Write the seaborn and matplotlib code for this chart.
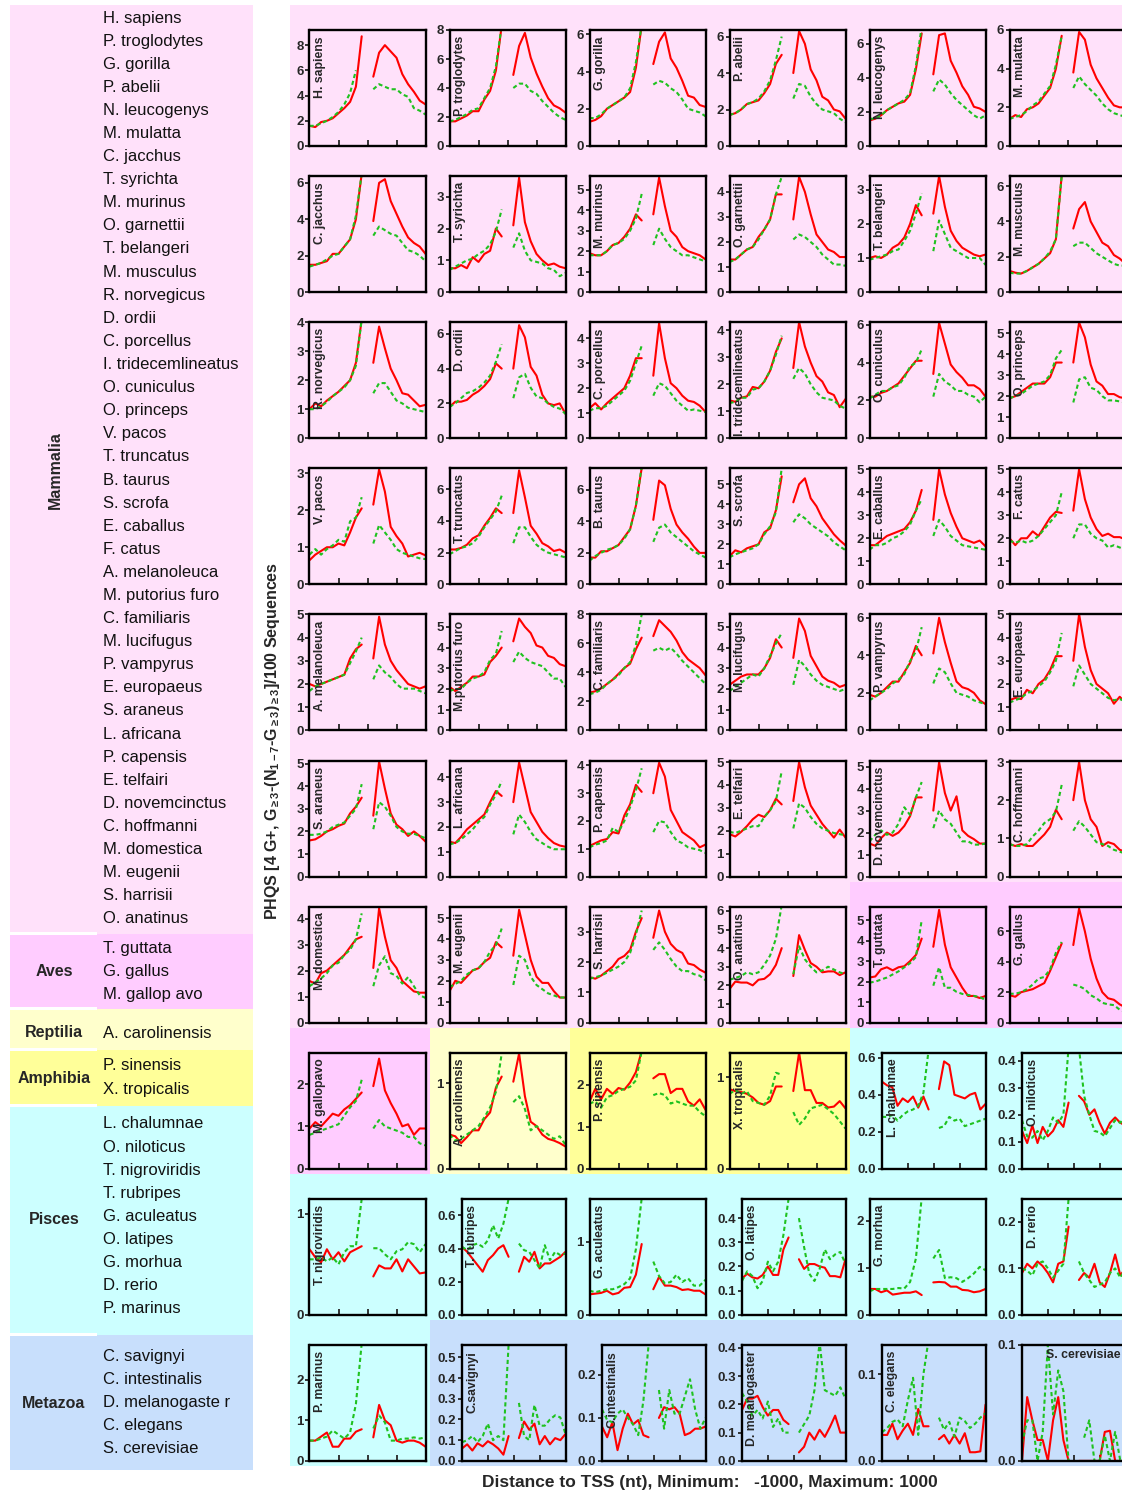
import numpy as np
import pandas as pd
import matplotlib
matplotlib.use("Agg")
import matplotlib.pyplot as plt
from matplotlib.patches import Rectangle
import seaborn as sns

# positions of the windows (nt from TSS)
x_up = [-1000, -900, -800, -700, -600, -500, -400, -300, -200, -100]
x_down = [100, 200, 300, 400, 500, 600, 700, 800, 900, 1000]

# panel labels, in grid order (6 per row)
panel_names = [
    "H. sapiens", "P. troglodytes", "G. gorilla", "P. abelii", "N. leucogenys", "M. mulatta",
    "C. jacchus", "T. syrichta", "M. murinus", "O. garnettii", "T. belangeri", "M. musculus",
    "R. norvegicus", "D. ordii", "C. porcellus", "I. tridecemlineatus", "O. cuniculus", "O. princeps",
    "V. pacos", "T. truncatus", "B. taurus", "S. scrofa", "E. caballus", "F. catus",
    "A. melanoleuca", "M.putorius furo", "C. familiaris", "M. lucifugus", "P. vampyrus", "E. europaeus",
    "S. araneus", "L. africana", "P. capensis", "E. telfairi", "D. novemcinctus", "C. hoffmanni",
    "M. domestica", "M. eugenii", "S. harrisii", "O. anatinus", "T. guttata", "G. gallus",
    "M. gallopavo", "A. carolinensis", "P. sinensis", "X. tropicalis", "L. chalumnae", "O. niloticus",
    "T. nigroviridis", "T. rubripes", "G. aculeatus", "O. latipes", "G. morhua", "D. rerio",
    "P. marinus", "C.savignyi", "C.intestinalis", "D. melanogaster", "C. elegans", "S. cerevisiae",
]

panel_group = (["Mammalia"] * 40 + ["Aves"] * 3 + ["Reptilia"] + ["Amphibia"] * 2
               + ["Pisces"] * 9 + ["Metazoa"] * 5)

y_max = [9.2, 8.0, 6.23, 6.36, 6.8, 6.0,
         6.37, 3.65, 5.67, 4.63, 3.4, 6.57,
         4.0, 6.67, 4.64, 4.3, 6.14, 5.52,
         3.13, 7.33, 7.38, 5.8, 5.04, 5.04,
         5.0, 5.6, 8.0, 5.6, 6.18, 5.0,
         5.15, 4.68, 4.18, 5.07, 5.28, 3.04,
         4.46, 5.55, 3.83, 6.23, 5.66, 7.63,
         2.74, 1.36, 2.76, 1.27, 0.627, 0.43,
         1.15, 0.70, 1.59, 0.48, 2.47, 0.25,
         2.86, 0.56, 0.27, 0.41, 0.134, 0.1]

y_step = [2, 2, 2, 2, 2, 2,
          2, 1, 1, 1, 1, 2,
          1, 2, 1, 1, 2, 1,
          1, 2, 2, 1, 1, 1,
          1, 1, 2, 1, 2, 1,
          1, 1, 1, 1, 1, 1,
          1, 1, 1, 1, 1, 2,
          1, 1, 1, 1, 0.2, 0.1,
          1, 0.2, 1, 0.1, 1, 0.1,
          1, 0.1, 0.1, 0.1, 0.1, 0.1]

nan = np.nan

red_up = {
    "H. sapiens": [1.6, 1.5, 1.9, 2.0, 2.2, 2.6, 3.0, 3.5, 4.7, 8.7],
    "P. troglodytes": [1.7, 1.7, 1.9, 2.1, 2.4, 2.4, 3.2, 3.8, 5.2, 8.3],
    "G. gorilla": [1.3, 1.4, 1.6, 2.0, 2.2, 2.4, 2.6, 2.9, 4.2, 6.5],
    "P. abelii": [1.7, 1.8, 2.0, 2.3, 2.4, 2.5, 2.9, 3.4, 4.5, 5.0],
    "N. leucogenys": [1.5, 1.6, 1.8, 2.1, 2.3, 2.5, 2.6, 3.0, 4.5, 6.6],
    "M. mulatta": [1.4, 1.6, 1.5, 1.9, 2.0, 2.2, 2.6, 3.0, 4.0, 5.7],
    "C. jacchus": [1.5, 1.5, 1.6, 1.7, 2.1, 2.1, 2.5, 2.9, 4.0, 6.5],
    "T. syrichta": [0.75, 0.75, 0.85, 0.75, 1.1, 0.95, 1.2, 1.3, 2.0, 1.75],
    "M. murinus": [1.9, 1.8, 1.8, 2.0, 2.3, 2.4, 2.7, 3.1, 3.8, 3.5],
    "O. garnettii": [1.3, 1.3, 1.5, 1.7, 1.8, 2.2, 2.5, 2.9, 3.9, 3.9],
    "T. belangeri": [1.0, 1.05, 1.0, 1.1, 1.3, 1.4, 1.6, 2.0, 2.55, 2.25],
    "M. musculus": [1.2, 1.1, 1.05, 1.2, 1.4, 1.6, 1.9, 2.2, 3.0, 6.6],
    "R. norvegicus": [1.0, 1.2, 1.1, 1.3, 1.45, 1.6, 1.8, 2.0, 2.6, 4.1],
    "D. ordii": [1.8, 2.1, 2.1, 2.2, 2.5, 2.7, 3.0, 3.4, 4.3, 4.0],
    "C. porcellus": [1.2, 1.4, 1.15, 1.4, 1.6, 1.8, 2.0, 2.5, 3.2, 3.2],
    "I. tridecemlineatus": [1.4, 1.35, 1.5, 1.55, 1.9, 1.85, 2.1, 2.5, 3.2, 3.7],
    "O. cuniculus": [2.2, 2.2, 2.4, 2.5, 2.7, 2.9, 3.3, 3.7, 4.1, 4.1],
    "O. princeps": [1.9, 2.0, 2.2, 2.4, 2.6, 2.6, 2.6, 2.9, 3.6, 3.6],
    "V. pacos": [0.65, 0.8, 0.9, 1.0, 1.0, 1.1, 1.05, 1.4, 1.8, 2.05],
    "T. truncatus": [2.2, 2.2, 2.3, 2.5, 2.9, 3.1, 3.7, 4.2, 4.8, 4.5],
    "B. taurus": [1.7, 1.7, 2.1, 2.1, 2.3, 2.5, 3.0, 3.5, 5.0, 7.4],
    "S. scrofa": [1.4, 1.7, 1.6, 1.8, 1.9, 2.0, 2.6, 2.8, 3.7, 5.4],
    "E. caballus": [1.7, 1.7, 1.9, 2.1, 2.2, 2.3, 2.4, 2.7, 3.2, 4.1],
    "F. catus": [2.0, 1.7, 2.0, 2.0, 2.3, 2.1, 2.5, 2.9, 3.15, 3.1],
    "A. melanoleuca": [2.0, 1.9, 2.0, 2.1, 2.2, 2.3, 2.4, 3.1, 3.5, 3.7],
    "M.putorius furo": [2.1, 1.9, 2.1, 2.3, 2.6, 2.6, 2.7, 3.3, 3.6, 4.0],
    "C. familiaris": [2.6, 2.7, 2.9, 3.2, 3.5, 3.9, 4.3, 4.6, 5.6, 6.4],
    "M. lucifugus": [2.2, 2.4, 2.6, 2.7, 2.7, 2.7, 3.0, 3.5, 4.4, 4.0],
    "P. vampyrus": [1.9, 1.8, 2.0, 2.3, 2.6, 2.6, 3.1, 3.6, 4.5, 4.0],
    "E. europaeus": [1.3, 1.4, 1.35, 1.75, 1.6, 2.0, 2.2, 2.6, 3.2, 3.2],
    "S. araneus": [1.6, 1.65, 1.8, 2.0, 2.1, 2.25, 2.35, 2.8, 3.1, 3.5],
    "L. africana": [1.4, 1.35, 1.6, 1.9, 2.1, 2.3, 2.5, 3.0, 3.45, 3.25],
    "P. capensis": [1.1, 1.2, 1.3, 1.35, 1.6, 1.55, 2.2, 2.6, 3.3, 3.05],
    "E. telfairi": [1.85, 1.75, 1.95, 2.2, 2.5, 2.7, 2.6, 2.9, 3.4, 3.15],
    "D. novemcinctus": [1.5, 1.4, 1.75, 2.0, 1.85, 2.0, 2.3, 2.75, 3.6, 3.6],
    "C. hoffmanni": [0.85, 0.8, 0.85, 0.8, 0.8, 0.95, 1.1, 1.3, 1.75, 1.5],
    "M. domestica": [1.6, 1.5, 1.9, 2.0, 2.2, 2.4, 2.6, 2.9, 3.2, 3.3],
    "M. eugenii": [1.5, 2.0, 1.9, 2.2, 2.5, 2.6, 2.9, 3.1, 3.85, 3.6],
    "S. harrisii": [1.5, 1.45, 1.55, 1.7, 1.85, 2.1, 2.2, 2.4, 3.0, 3.45],
    "O. anatinus": [1.8, 2.2, 2.15, 2.15, 2.0, 2.3, 2.35, 2.6, 3.1, 4.0],
    "T. guttata": [2.2, 2.25, 2.6, 2.7, 2.55, 2.7, 2.75, 3.0, 3.3, 4.1],
    "G. gallus": [1.8, 1.7, 2.0, 2.1, 2.2, 2.4, 2.6, 3.4, 4.3, 5.2],
    "M. gallopavo": [0.95, 1.1, 1.0, 1.15, 1.3, 1.25, 1.4, 1.5, 1.65, 1.8],
    "A. carolinensis": [0.4, 0.38, 0.3, 0.37, 0.45, 0.45, 0.58, 0.66, 0.95, 1.08],
    "P. sinensis": [1.6, 1.9, 1.65, 1.9, 1.78, 1.92, 1.88, 2.05, 2.3, 2.8],
    "X. tropicalis": [0.87, 0.85, 0.84, 0.82, 0.78, 0.72, 0.7, 0.74, 0.9, 0.9],
    "L. chalumnae": [0.47, 0.45, 0.44, 0.34, 0.38, 0.36, 0.39, 0.33, 0.39, 0.32],
    "O. niloticus": [0.14, 0.095, 0.16, 0.095, 0.155, 0.12, 0.14, 0.18, 0.155, 0.245],
    "T. nigroviridis": [0.65, 0.57, 0.52, 0.65, 0.55, 0.62, 0.53, 0.62, 0.65, 0.68],
    "T. rubripes": [0.41, 0.38, 0.34, 0.3, 0.26, 0.33, 0.36, 0.40, 0.42, 0.35],
    "G. aculeatus": [0.28, 0.29, 0.3, 0.33, 0.28, 0.3, 0.37, 0.38, 0.55, 0.97],
    "O. latipes": [0.15, 0.17, 0.155, 0.15, 0.165, 0.2, 0.165, 0.165, 0.27, 0.32],
    "G. morhua": [0.55, 0.55, 0.48, 0.52, 0.43, 0.45, 0.47, 0.47, 0.5, 0.42],
    "D. rerio": [0.09, 0.11, 0.1, 0.115, 0.105, 0.09, 0.07, 0.11, 0.115, 0.19],
    "P. marinus": [0.5, 0.5, 0.6, 0.7, 0.35, 0.35, 0.55, 0.55, 0.72, 0.78],
    "C.savignyi": [0.06, 0.08, 0.05, 0.085, 0.07, 0.095, 0.08, 0.06, 0.03, 0.12],
    "C.intestinalis": [0.08, 0.055, 0.09, 0.025, 0.075, 0.11, 0.085, 0.095, 0.06, 0.055],
    "D. melanogaster": [0.18, 0.22, 0.22, 0.23, 0.19, 0.16, 0.18, 0.18, 0.145, 0.13],
    "C. elegans": [0.03, 0.03, 0.043, 0.025, 0.035, 0.043, 0.03, 0.06, 0.04, 0.04],
    "S. cerevisiae": [0.0, 0.055, 0.035, 0.018, 0.018, 0.0, 0.035, 0.055, 0.018, 0.0],
}

green_up = {
    "H. sapiens": [1.6, 1.6, 1.8, 2.0, 2.3, 2.7, 3.3, 4.2, 6.0, nan],
    "P. troglodytes": [1.7, 1.8, 2.0, 2.2, 2.5, 2.6, 3.3, 4.0, 5.5, 8.3],
    "G. gorilla": [1.5, 1.5, 1.7, 2.0, 2.2, 2.4, 2.6, 3.1, 4.5, 6.5],
    "P. abelii": [1.7, 1.8, 2.0, 2.3, 2.4, 2.6, 3.0, 3.6, 4.7, 6.0],
    "N. leucogenys": [1.6, 1.6, 1.8, 2.1, 2.3, 2.5, 2.7, 3.1, 4.7, 7.0],
    "M. mulatta": [1.4, 1.5, 1.6, 1.8, 2.1, 2.3, 2.7, 3.1, 4.2, 5.7],
    "C. jacchus": [1.4, 1.5, 1.6, 1.8, 2.0, 2.1, 2.5, 2.9, 4.2, 6.5],
    "T. syrichta": [0.7, 0.8, 0.9, 1.0, 1.05, 1.2, 1.3, 1.5, 1.9, 2.6],
    "M. murinus": [1.8, 1.8, 1.8, 2.0, 2.3, 2.4, 2.6, 3.0, 3.6, 4.8],
    "O. garnettii": [1.2, 1.3, 1.5, 1.7, 1.8, 2.1, 2.5, 2.9, 3.9, 4.6],
    "T. belangeri": [0.95, 1.0, 1.05, 1.1, 1.2, 1.25, 1.5, 1.8, 2.3, 2.9],
    "M. musculus": [1.1, 1.05, 1.05, 1.2, 1.4, 1.6, 1.9, 2.3, 3.0, 6.6],
    "R. norvegicus": [1.0, 1.0, 1.1, 1.25, 1.45, 1.6, 1.75, 2.0, 2.5, 4.1],
    "D. ordii": [1.8, 2.0, 2.3, 2.6, 2.7, 2.9, 3.2, 3.6, 4.4, 5.4],
    "C. porcellus": [1.1, 1.2, 1.2, 1.3, 1.5, 1.7, 1.9, 2.3, 3.0, 3.7],
    "I. tridecemlineatus": [1.3, 1.35, 1.5, 1.5, 1.8, 1.85, 2.1, 2.5, 3.1, 3.8],
    "O. cuniculus": [2.1, 2.3, 2.5, 2.5, 2.7, 2.8, 3.2, 3.8, 4.0, 4.7],
    "O. princeps": [1.9, 2.0, 2.1, 2.3, 2.5, 2.6, 2.7, 3.0, 3.8, 4.2],
    "V. pacos": [0.8, 0.95, 0.8, 0.95, 1.05, 1.2, 1.15, 1.7, 1.8, 2.35],
    "T. truncatus": [1.9, 2.1, 2.3, 2.4, 2.6, 3.0, 3.6, 4.1, 4.6, 5.6],
    "B. taurus": [1.5, 1.8, 2.0, 2.2, 2.3, 2.5, 2.9, 3.5, 5.0, 7.5],
    "S. scrofa": [1.35, 1.5, 1.6, 1.7, 1.8, 2.0, 2.5, 2.9, 3.6, 5.8],
    "E. caballus": [1.5, 1.7, 1.7, 1.8, 2.0, 2.1, 2.3, 2.6, 3.2, 3.7],
    "F. catus": [1.9, 1.8, 1.9, 1.8, 1.9, 2.1, 2.4, 2.7, 3.0, 4.0],
    "A. melanoleuca": [1.7, 1.9, 2.0, 2.1, 2.2, 2.3, 2.4, 2.9, 3.4, 4.0],
    "M.putorius furo": [1.9, 2.0, 2.0, 2.3, 2.5, 2.6, 2.8, 3.4, 3.7, 4.8],
    "C. familiaris": [2.5, 2.6, 2.8, 3.2, 3.5, 3.8, 4.3, 4.7, 5.9, 8.0],
    "M. lucifugus": [1.9, 2.1, 2.3, 2.5, 2.7, 2.6, 3.0, 3.6, 4.2, 4.7],
    "P. vampyrus": [1.6, 1.8, 2.0, 2.2, 2.5, 2.7, 3.0, 3.7, 4.2, 5.5],
    "E. europaeus": [1.2, 1.3, 1.4, 1.6, 1.7, 1.9, 2.1, 2.5, 3.0, 4.2],
    "S. araneus": [1.85, 1.85, 1.9, 2.0, 2.2, 2.3, 2.4, 2.7, 3.0, 4.1],
    "L. africana": [1.3, 1.35, 1.5, 1.7, 1.9, 2.2, 2.4, 2.9, 3.3, 3.85],
    "P. capensis": [1.05, 1.15, 1.2, 1.3, 1.75, 1.6, 2.0, 2.5, 3.1, 3.9],
    "E. telfairi": [1.95, 1.9, 2.0, 2.1, 2.2, 2.2, 2.6, 2.9, 3.3, 4.6],
    "D. novemcinctus": [1.6, 1.9, 2.1, 1.9, 2.0, 2.4, 3.15, 2.8, 3.6, 4.3],
    "C. hoffmanni": [0.85, 0.8, 0.8, 0.85, 1.05, 1.2, 1.4, 1.5, 1.7, 2.4],
    "M. domestica": [1.4, 1.55, 1.7, 1.9, 2.2, 2.3, 2.6, 2.8, 3.2, 4.2],
    "M. eugenii": [1.7, 1.85, 2.0, 2.3, 2.5, 2.6, 2.9, 3.4, 3.7, 4.5],
    "S. harrisii": [1.45, 1.5, 1.55, 1.65, 1.75, 1.85, 2.0, 2.3, 2.9, 3.7],
    "O. anatinus": [2.3, 2.4, 2.5, 2.7, 2.6, 2.7, 3.1, 3.6, 4.5, 6.3],
    "T. guttata": [1.95, 2.0, 2.1, 2.2, 2.35, 2.5, 2.7, 2.9, 3.2, 5.0],
    "G. gallus": [1.9, 1.9, 2.0, 2.2, 2.5, 2.9, 3.0, 3.5, 4.6, 5.3],
    "M. gallopavo": [0.8, 0.85, 0.9, 0.95, 1.0, 1.05, 1.25, 1.45, 1.6, 2.1],
    "A. carolinensis": [0.4, 0.33, 0.35, 0.4, 0.45, 0.5, 0.6, 0.72, 0.9, 1.35],
    "P. sinensis": [1.55, 1.6, 1.45, 1.7, 1.75, 1.85, 1.9, 1.95, 2.1, 2.8],
    "X. tropicalis": [0.82, 0.86, 0.82, 0.85, 0.74, 0.72, 0.7, 0.8, 1.05, 1.03],
    "L. chalumnae": [0.28, 0.28, 0.29, 0.26, 0.29, 0.31, 0.32, 0.34, 0.41, 0.64],
    "O. niloticus": [0.18, 0.12, 0.115, 0.14, 0.105, 0.14, 0.19, 0.17, 0.2, 0.45],
    "T. nigroviridis": [0.55, 0.55, 0.57, 0.53, 0.57, 0.5, 0.62, 0.68, 0.68, 1.15],
    "T. rubripes": [0.41, 0.39, 0.42, 0.43, 0.41, 0.45, 0.54, 0.46, 0.55, 0.70],
    "G. aculeatus": [0.33, 0.31, 0.33, 0.35, 0.35, 0.38, 0.42, 0.5, 0.9, 1.6],
    "O. latipes": [0.14, 0.18, 0.16, 0.11, 0.14, 0.22, 0.18, 0.22, 0.33, 0.48],
    "G. morhua": [0.5, 0.55, 0.55, 0.55, 0.55, 0.57, 0.56, 0.7, 1.2, 2.5],
    "D. rerio": [0.1, 0.095, 0.085, 0.11, 0.115, 0.1, 0.08, 0.095, 0.11, 0.25],
    "P. marinus": [0.5, 0.5, 0.55, 0.6, 0.75, 0.65, 0.55, 0.7, 1.4, 2.9],
    "C.savignyi": [0.09, 0.1, 0.12, 0.09, 0.12, 0.18, 0.1, 0.12, 0.1, 0.56],
    "C.intestinalis": [0.12, 0.095, 0.09, 0.11, 0.12, 0.1, 0.085, 0.06, 0.14, 0.27],
    "D. melanogaster": [0.24, 0.21, 0.16, 0.18, 0.15, 0.21, 0.12, 0.15, 0.1, 0.1],
    "C. elegans": [0.033, 0.038, 0.045, 0.048, 0.04, 0.07, 0.096, 0.03, 0.1, 0.14],
    "S. cerevisiae": [0.015, 0.035, 0.035, 0.0, 0.025, 0.1, 0.04, 0.078, 0.06, 0.0],
}

red_down = {
    "H. sapiens": [5.5, 7.4, 8.0, 7.5, 7.0, 5.7, 4.9, 4.3, 3.6, 3.3],
    "P. troglodytes": [4.9, 6.9, 7.8, 6.1, 5.0, 4.1, 3.3, 2.8, 2.6, 2.3],
    "G. gorilla": [4.4, 5.6, 6.1, 4.7, 4.2, 3.5, 2.7, 2.6, 2.2, 2.1],
    "P. abelii": [4.0, 6.3, 5.6, 4.2, 3.6, 2.7, 2.5, 2.0, 1.9, 1.5],
    "N. leucogenys": [4.2, 6.5, 6.6, 5.0, 4.3, 3.5, 3.0, 2.3, 2.2, 2.0],
    "M. mulatta": [3.8, 5.9, 5.5, 4.2, 3.5, 3.0, 2.5, 2.1, 2.0, 2.0],
    "C. jacchus": [3.9, 6.0, 6.2, 5.0, 4.3, 3.6, 3.0, 2.7, 2.5, 2.1],
    "T. syrichta": [2.1, 3.6, 2.2, 1.6, 1.2, 1.0, 0.85, 0.9, 0.8, 0.75],
    "M. murinus": [3.8, 5.6, 4.2, 3.0, 2.7, 2.2, 2.0, 1.9, 1.8, 1.6],
    "O. garnettii": [2.9, 4.6, 4.0, 3.1, 2.3, 2.0, 1.7, 1.6, 1.4, 1.4],
    "T. belangeri": [2.3, 3.4, 2.5, 1.8, 1.5, 1.3, 1.2, 1.1, 1.05, 1.1],
    "M. musculus": [3.6, 4.7, 5.1, 4.0, 3.4, 2.8, 2.6, 2.1, 1.9, 1.6],
    "R. norvegicus": [2.6, 3.85, 3.1, 2.4, 2.0, 1.55, 1.5, 1.3, 1.1, 1.15],
    "D. ordii": [4.0, 6.5, 5.8, 4.1, 3.6, 2.5, 2.0, 1.9, 2.0, 1.4],
    "C. porcellus": [2.5, 4.6, 3.2, 2.2, 2.0, 1.7, 1.5, 1.45, 1.3, 1.05],
    "I. tridecemlineatus": [2.6, 4.3, 3.4, 2.8, 2.3, 2.1, 1.7, 1.6, 1.15, 1.45],
    "O. cuniculus": [3.4, 6.1, 5.0, 3.9, 3.5, 3.2, 2.8, 2.8, 2.6, 2.2],
    "O. princeps": [3.6, 5.5, 4.8, 3.5, 2.7, 2.5, 2.1, 2.1, 1.95, 1.9],
    "V. pacos": [2.15, 3.1, 2.5, 1.55, 1.3, 1.1, 0.75, 0.8, 0.85, 0.78],
    "T. truncatus": [4.5, 7.2, 5.5, 3.7, 3.2, 2.6, 2.4, 2.1, 2.2, 2.0],
    "B. taurus": [4.1, 6.6, 6.3, 4.8, 3.8, 3.3, 2.9, 2.4, 2.0, 2.0],
    "S. scrofa": [4.1, 5.0, 5.3, 4.3, 3.9, 3.3, 2.9, 2.5, 2.2, 1.95],
    "E. caballus": [2.8, 5.0, 3.9, 3.1, 2.5, 2.0, 1.9, 1.8, 1.9, 1.65],
    "F. catus": [3.2, 5.0, 3.7, 2.9, 2.4, 2.1, 2.2, 2.05, 2.05, 1.95],
    "A. melanoleuca": [3.1, 4.9, 3.7, 3.0, 2.6, 2.3, 2.0, 1.9, 1.8, 1.9],
    "M.putorius furo": [4.3, 5.4, 5.0, 4.7, 4.1, 4.0, 3.6, 3.5, 3.2, 3.1],
    "C. familiaris": [6.5, 7.6, 7.2, 6.8, 6.2, 5.4, 4.9, 4.6, 4.3, 3.8],
    "M. lucifugus": [3.5, 5.4, 4.8, 3.6, 3.1, 2.6, 2.4, 2.3, 2.1, 2.2],
    "P. vampyrus": [4.1, 6.0, 4.7, 3.6, 2.6, 2.3, 2.2, 2.0, 1.6, 1.4],
    "E. europaeus": [3.0, 5.0, 3.6, 2.6, 2.0, 1.8, 1.6, 1.15, 1.45, 1.2],
    "S. araneus": [2.7, 5.1, 3.9, 2.8, 2.3, 2.1, 1.8, 2.0, 1.8, 1.55],
    "L. africana": [3.0, 4.6, 3.6, 2.6, 2.2, 1.8, 1.55, 1.35, 1.25, 1.2],
    "P. capensis": [3.0, 4.1, 3.6, 2.4, 2.0, 1.6, 1.45, 1.3, 1.05, 1.15],
    "E. telfairi": [3.3, 5.0, 3.9, 3.1, 2.7, 2.3, 2.0, 1.7, 2.05, 1.7],
    "D. novemcinctus": [3.0, 5.2, 3.8, 3.0, 3.65, 2.1, 1.85, 1.7, 1.5, 1.5],
    "C. hoffmanni": [2.0, 3.0, 2.0, 1.5, 1.3, 0.8, 0.9, 0.85, 0.7, 0.65],
    "M. domestica": [2.1, 4.4, 3.3, 2.4, 2.1, 1.6, 1.4, 1.2, 1.15, 1.15],
    "M. eugenii": [3.2, 5.4, 4.2, 3.0, 2.2, 1.9, 1.9, 1.5, 1.2, 1.2],
    "S. harrisii": [2.8, 3.7, 3.0, 2.6, 2.4, 2.3, 1.95, 1.9, 1.75, 1.65],
    "O. anatinus": [2.5, 4.7, 3.9, 3.2, 3.0, 2.7, 2.75, 2.75, 2.55, 2.7],
    "T. guttata": [3.7, 5.5, 3.8, 2.7, 2.2, 1.7, 1.3, 1.3, 1.2, 1.3],
    "G. gallus": [5.1, 7.5, 6.0, 4.2, 2.9, 2.0, 1.6, 1.5, 1.2, 1.0],
    "M. gallopavo": [1.95, 2.6, 1.85, 1.55, 1.3, 1.0, 1.05, 0.8, 0.95, 0.95],
    "A. carolinensis": [1.02, 1.35, 0.85, 0.55, 0.5, 0.4, 0.35, 0.33, 0.3, 0.26],
    "P. sinensis": [2.15, 2.25, 2.25, 1.8, 1.9, 1.9, 1.6, 1.5, 1.65, 1.4],
    "X. tropicalis": [0.85, 1.27, 0.86, 0.86, 0.72, 0.72, 0.67, 0.68, 0.74, 0.66],
    "L. chalumnae": [0.43, 0.58, 0.56, 0.4, 0.39, 0.38, 0.4, 0.41, 0.32, 0.35],
    "O. niloticus": [0.27, 0.25, 0.2, 0.22, 0.17, 0.13, 0.17, 0.19, 0.17, 0.16],
    "T. nigroviridis": [0.38, 0.49, 0.46, 0.46, 0.55, 0.43, 0.55, 0.48, 0.41, 0.42],
    "T. rubripes": [0.26, 0.35, 0.32, 0.38, 0.28, 0.31, 0.31, 0.33, 0.35, 0.38],
    "G. aculeatus": [0.35, 0.52, 0.4, 0.4, 0.38, 0.34, 0.35, 0.33, 0.33, 0.28],
    "O. latipes": [0.23, 0.19, 0.21, 0.21, 0.2, 0.195, 0.16, 0.16, 0.155, 0.23],
    "G. morhua": [0.69, 0.7, 0.69, 0.6, 0.6, 0.53, 0.52, 0.48, 0.5, 0.55],
    "D. rerio": [0.075, 0.09, 0.08, 0.11, 0.07, 0.06, 0.09, 0.13, 0.085, 0.1],
    "P. marinus": [0.58, 1.38, 1.0, 0.88, 0.5, 0.45, 0.5, 0.5, 0.45, 0.35],
    "C.savignyi": [0.11, 0.19, 0.15, 0.18, 0.08, 0.12, 0.08, 0.11, 0.1, 0.13],
    "C.intestinalis": [0.1, 0.125, 0.12, 0.125, 0.11, 0.06, 0.065, 0.075, 0.075, 0.08],
    "D. melanogaster": [0.03, 0.05, 0.1, 0.075, 0.11, 0.085, 0.12, 0.16, 0.1, 0.1],
    "C. elegans": [0.025, 0.03, 0.02, 0.03, 0.02, 0.032, 0.01, 0.01, 0.011, 0.065],
    "S. cerevisiae": [0.0, 0.0, 0.0, 0.0, 0.0, 0.025, 0.026, 0.0, 0.0, 0.0],
}

green_down = {
    "H. sapiens": [4.5, 4.9, 4.7, 4.5, 4.5, 4.1, 3.9, 3.0, 2.8, 2.5],
    "P. troglodytes": [4.0, 4.3, 4.3, 3.8, 3.6, 3.1, 2.7, 2.3, 2.0, 1.8],
    "G. gorilla": [3.3, 3.5, 3.4, 3.1, 2.9, 2.5, 2.0, 1.9, 1.8, 1.6],
    "P. abelii": [2.6, 3.4, 3.3, 2.7, 2.3, 2.0, 1.9, 1.8, 1.5, 1.3],
    "N. leucogenys": [3.2, 3.9, 3.6, 3.1, 2.7, 2.4, 2.1, 1.8, 1.6, 1.8],
    "M. mulatta": [3.0, 3.6, 3.2, 2.9, 2.6, 2.2, 1.9, 1.7, 1.6, 1.5],
    "C. jacchus": [3.1, 3.6, 3.4, 3.2, 3.1, 2.7, 2.3, 2.2, 2.0, 1.7],
    "T. syrichta": [1.4, 1.85, 1.3, 1.0, 0.95, 0.9, 0.75, 0.7, 0.5, 0.6],
    "M. murinus": [2.3, 3.1, 2.6, 2.2, 2.0, 1.8, 1.8, 1.7, 1.6, 1.5],
    "O. garnettii": [2.1, 2.3, 2.2, 2.0, 1.8, 1.5, 1.3, 1.1, 1.1, 1.05],
    "T. belangeri": [1.2, 2.1, 1.7, 1.3, 1.2, 1.1, 1.0, 1.0, 1.0, 0.8],
    "M. musculus": [2.6, 2.8, 2.8, 2.5, 2.2, 2.0, 1.8, 1.6, 1.5, 1.5],
    "R. norvegicus": [1.55, 1.9, 1.9, 1.6, 1.3, 1.2, 1.05, 1.0, 0.95, 0.9],
    "D. ordii": [2.3, 3.5, 3.7, 2.9, 2.4, 2.3, 2.0, 1.8, 1.7, 1.4],
    "C. porcellus": [1.7, 2.2, 2.1, 1.8, 1.5, 1.3, 1.1, 1.15, 1.1, 1.05],
    "I. tridecemlineatus": [2.2, 2.6, 2.4, 2.0, 1.7, 1.5, 1.45, 1.4, 1.2, 1.1],
    "O. cuniculus": [2.2, 3.4, 3.0, 2.8, 2.5, 2.5, 2.3, 2.2, 1.9, 2.2],
    "O. princeps": [1.7, 2.8, 2.9, 2.4, 2.3, 2.0, 1.8, 1.8, 1.75, 1.7],
    "V. pacos": [1.1, 1.6, 1.4, 1.2, 0.95, 0.85, 0.8, 0.75, 0.7, 0.68],
    "T. truncatus": [2.6, 3.6, 3.6, 3.0, 2.5, 2.2, 2.0, 1.9, 1.8, 1.7],
    "B. taurus": [2.7, 3.6, 3.8, 3.3, 3.0, 2.7, 2.4, 2.1, 1.9, 1.7],
    "S. scrofa": [3.1, 3.5, 3.3, 3.0, 2.8, 2.6, 2.4, 2.1, 1.9, 1.7],
    "E. caballus": [2.1, 2.8, 2.5, 2.1, 1.9, 1.7, 1.65, 1.6, 1.55, 1.5],
    "F. catus": [2.0, 2.6, 2.6, 2.2, 2.0, 1.9, 1.6, 1.7, 1.6, 1.5],
    "A. melanoleuca": [2.2, 2.8, 2.5, 2.3, 2.0, 1.8, 1.8, 1.8, 1.7, 1.6],
    "M.putorius furo": [3.3, 3.8, 3.5, 3.3, 3.2, 3.1, 2.8, 2.5, 2.5, 2.1],
    "C. familiaris": [5.5, 5.7, 5.5, 5.7, 5.3, 4.8, 4.4, 4.0, 3.6, 3.2],
    "M. lucifugus": [2.2, 3.4, 3.1, 2.7, 2.4, 2.2, 2.1, 2.0, 1.9, 2.0],
    "P. vampyrus": [2.5, 3.3, 3.1, 2.5, 2.0, 1.9, 1.8, 1.6, 1.5, 1.4],
    "E. europaeus": [1.9, 2.8, 2.4, 2.0, 1.8, 1.6, 1.4, 1.3, 1.35, 1.25],
    "S. araneus": [2.1, 3.3, 3.1, 2.7, 2.2, 2.0, 1.9, 1.9, 1.8, 1.7],
    "L. africana": [1.7, 2.5, 2.2, 1.8, 1.5, 1.35, 1.2, 1.1, 1.1, 1.1],
    "P. capensis": [1.6, 2.0, 1.95, 1.6, 1.3, 1.2, 1.05, 1.0, 0.95, 0.85],
    "E. telfairi": [2.1, 3.2, 3.0, 2.6, 2.3, 2.1, 2.0, 1.9, 1.85, 1.8],
    "D. novemcinctus": [2.2, 3.0, 2.6, 2.4, 2.0, 1.6, 1.6, 1.45, 1.45, 1.5],
    "C. hoffmanni": [1.2, 1.45, 1.3, 1.1, 0.9, 0.85, 0.8, 0.7, 0.65, 0.6],
    "M. domestica": [1.4, 2.2, 2.55, 1.9, 1.8, 1.5, 1.75, 1.4, 1.05, 0.95],
    "M. eugenii": [1.8, 3.2, 3.0, 2.2, 1.8, 1.6, 1.4, 1.3, 1.2, 1.2],
    "S. harrisii": [2.4, 2.65, 2.4, 2.1, 1.85, 1.7, 1.7, 1.6, 1.55, 1.4],
    "O. anatinus": [2.6, 4.1, 3.4, 3.0, 2.7, 2.8, 3.0, 2.85, 2.7, 2.6],
    "T. guttata": [1.8, 2.7, 1.7, 1.7, 1.5, 1.4, 1.35, 1.3, 1.25, 1.1],
    "G. gallus": [2.5, 2.4, 2.2, 1.8, 1.6, 1.3, 1.2, 1.15, 0.85, 0.7],
    "M. gallopavo": [0.95, 1.15, 1.0, 0.95, 0.9, 0.85, 0.75, 0.75, 0.6, 0.55],
    "A. carolinensis": [0.78, 0.85, 0.7, 0.45, 0.5, 0.45, 0.4, 0.35, 0.38, 0.28],
    "P. sinensis": [1.75, 1.8, 1.75, 1.55, 1.6, 1.55, 1.5, 1.5, 1.35, 1.25],
    "X. tropicalis": [0.62, 0.48, 0.55, 0.66, 0.68, 0.7, 0.65, 0.6, 0.52, 0.44],
    "L. chalumnae": [0.22, 0.23, 0.28, 0.26, 0.27, 0.23, 0.24, 0.25, 0.26, 0.27],
    "O. niloticus": [0.45, 0.27, 0.2, 0.14, 0.135, 0.12, 0.15, 0.18, 0.17, 0.2],
    "T. nigroviridis": [0.66, 0.66, 0.6, 0.55, 0.63, 0.65, 0.72, 0.7, 0.62, 0.7],
    "T. rubripes": [0.43, 0.39, 0.38, 0.33, 0.28, 0.42, 0.33, 0.38, 0.36, 0.37],
    "G. aculeatus": [0.73, 0.53, 0.43, 0.45, 0.55, 0.45, 0.5, 0.4, 0.4, 0.48],
    "O. latipes": [0.4, 0.28, 0.17, 0.14, 0.19, 0.27, 0.23, 0.25, 0.26, 0.21],
    "G. morhua": [1.2, 1.38, 0.78, 0.8, 0.78, 0.7, 0.78, 0.88, 1.02, 0.95],
    "D. rerio": [0.115, 0.09, 0.075, 0.06, 0.065, 0.07, 0.09, 0.1, 0.08, 0.1],
    "P. marinus": [0.8, 1.12, 0.95, 0.5, 0.5, 0.55, 0.55, 0.58, 0.55, 0.58],
    "C.savignyi": [0.28, 0.12, 0.1, 0.27, 0.17, 0.17, 0.2, 0.22, 0.21, 0.13],
    "C.intestinalis": [0.165, 0.075, 0.165, 0.11, 0.11, 0.15, 0.19, 0.12, 0.075, 0.1],
    "D. melanogaster": [0.1, 0.13, 0.16, 0.25, 0.42, 0.25, 0.24, 0.23, 0.26, 0.22],
    "C. elegans": [0.05, 0.036, 0.045, 0.028, 0.05, 0.046, 0.038, 0.043, 0.05, 0.055],
    "S. cerevisiae": [nan, 0.02, 0.035, 0.0, 0.0, 0.022, 0.0, 0.025, 0.0, nan],
}

# left-hand table
group_names = ["Mammalia", "Aves", "Reptilia", "Amphibia", "Pisces", "Metazoa"]
group_members = {
    "Mammalia": ["H. sapiens", "P. troglodytes", "G. gorilla", "P. abelii", "N. leucogenys",
                 "M. mulatta", "C. jacchus", "T. syrichta", "M. murinus", "O. garnettii",
                 "T. belangeri", "M. musculus", "R. norvegicus", "D. ordii", "C. porcellus",
                 "I. tridecemlineatus", "O. cuniculus", "O. princeps", "V. pacos", "T. truncatus",
                 "B. taurus", "S. scrofa", "E. caballus", "F. catus", "A. melanoleuca",
                 "M. putorius furo", "C. familiaris", "M. lucifugus", "P. vampyrus", "E. europaeus",
                 "S. araneus", "L. africana", "P. capensis", "E. telfairi", "D. novemcinctus",
                 "C. hoffmanni", "M. domestica", "M. eugenii", "S. harrisii", "O. anatinus"],
    "Aves": ["T. guttata", "G. gallus", "M. gallop avo"],
    "Reptilia": ["A. carolinensis"],
    "Amphibia": ["P. sinensis", "X. tropicalis"],
    "Pisces": ["L. chalumnae", "O. niloticus", "T. nigroviridis", "T. rubripes", "G. aculeatus",
               "O. latipes", "G. morhua", "D. rerio", "P. marinus"],
    "Metazoa": ["C. savignyi", "C. intestinalis", "D. melanogaste r", "C. elegans", "S. cerevisiae"],
}
group_colors = {"Mammalia": "#FFE1FA", "Aves": "#FFCCFF", "Reptilia": "#FFFFCC",
                "Amphibia": "#FFFF99", "Pisces": "#CCFFFF", "Metazoa": "#C8DFFC"}

# ---------------------------------------------------------------- layout (pixels)
W, H = 1122, 1493
sns.set_style("ticks")
plt.rcParams["font.family"] = ["Liberation Sans", "DejaVu Sans"]
plt.rcParams["mathtext.fontset"] = "custom"
plt.rcParams["mathtext.rm"] = "Liberation Sans:bold"
plt.rcParams["mathtext.it"] = "Liberation Sans:bold"
plt.rcParams["mathtext.bf"] = "Liberation Sans:bold"

fig = plt.figure(figsize=(W / 100, H / 100), dpi=100)
fig.patch.set_facecolor("white")


def frect(x, y, w, h, color):
    fig.add_artist(Rectangle((x / W, 1 - (y + h) / H), w / W, h / H, transform=fig.transFigure,
                             facecolor=color, edgecolor="none", zorder=0))


def ftext(x, y, s, **kw):
    fig.text(x / W, 1 - y / H, s, **kw)


# table blocks: (top, bottom) of each group, first name row and label centre
table_span = {"Mammalia": (5, 932), "Aves": (935, 1007), "Reptilia": (1010, 1048),
              "Amphibia": (1051, 1104), "Pisces": (1107, 1333), "Metazoa": (1336, 1470)}
first_row = {"Mammalia": 18, "Aves": 948, "Reptilia": 1033, "Amphibia": 1066,
             "Pisces": 1124, "Metazoa": 1356}
label_y = {"Mammalia": 470, "Aves": 972, "Reptilia": 1033, "Amphibia": 1078,
           "Pisces": 1220, "Metazoa": 1403}

for i, g in enumerate(group_names):
    top, bot = table_span[g]
    frect(10, top, 87, bot - top, group_colors[g])
    stop = top - 1.5 if i > 0 else top
    sbot = bot + 1.5 if i < len(group_names) - 1 else bot
    frect(97, stop, 156, sbot - stop, group_colors[g])
    if g == "Mammalia":
        ftext(55, label_y[g], g, rotation=90, ha="center", va="center",
              fontsize=11.5, fontweight="bold")
    else:
        ftext(54, label_y[g], g, ha="center", va="center", fontsize=11.5, fontweight="bold")
    for k, nm in enumerate(group_members[g]):
        ftext(103, first_row[g] + 23.1 * k, nm, ha="left", va="center", fontsize=12, color="#111111")

# long-form data
rows = []
for name in panel_names:
    for series, up, down in (("red", red_up[name], red_down[name]),
                             ("green", green_up[name], green_down[name])):
        for seg, xs, ys in (("up", x_up, up), ("down", x_down, down)):
            for xv, yv in zip(xs, ys):
                rows.append((name, series, seg, xv, yv))
df = pd.DataFrame(rows, columns=["species", "series", "seg", "pos", "val"]).dropna()

pal = {"red": "#FF0000", "green": "#1FC21F"}
dash = {"red": "", "green": (2.0, 1.4)}

row_h = 146.1
for i, name in enumerate(panel_names):
    r, c = divmod(i, 6)
    cell_x = 290 + 140 * c
    cell_y = 5 + row_h * r
    frect(cell_x, cell_y, 140, row_h + 0.5, group_colors[panel_group[i]])

    step = y_step[i]
    left = cell_x + (32 if step < 1 else 19.5)
    right = cell_x + 135.5
    top = 30 + row_h * r
    ax = fig.add_axes([left / W, 1 - (top + 116) / H, (right - left) / W, 116 / H])
    ax.set_facecolor("none")

    sub = df[df["species"] == name]
    sns.lineplot(data=sub, x="pos", y="val", hue="series", hue_order=["red", "green"],
                 style="series", style_order=["red", "green"], units="seg", estimator=None,
                 palette=pal, dashes=dash, linewidth=1.5, legend=False, sort=False, ax=ax)

    ax.set_xlim(-1000, 1000)
    ax.set_ylim(0, y_max[i])
    ax.set_xlabel("")
    ax.set_ylabel("")
    ax.set_xticks([-500, 0, 500])
    ax.set_xticklabels([])
    nt = int(np.floor(y_max[i] / step + 1e-6))
    ticks = [k * step for k in range(nt + 1)]
    ax.set_yticks(ticks)
    if step < 1:
        labels = [f"{t:.1f}" for t in ticks]
    else:
        labels = [f"{t:g}" for t in ticks]
    ax.set_yticklabels(labels, fontweight="bold", fontsize=9.5)
    ax.tick_params(axis="x", direction="in", length=4, width=1.3)
    ax.tick_params(axis="y", direction="out", length=3, width=1.3, pad=1)
    for sp in ax.spines.values():
        sp.set_visible(True)
        sp.set_linewidth(1.7)
        sp.set_color("black")

    if name == "S. cerevisiae":
        ftext(1046, top + 10, name, ha="left", va="center", fontsize=8.8, fontweight="bold")
    else:
        ftext(left + 10.5, top + 6, name, rotation=90, ha="center", va="top",
              fontsize=8.8, fontweight="bold")

ylab = (r"PHQS [4 G+, G$_{\geq 3}$-(N$_{1-7}$-G$_{\geq 3}$)$_{\geq 3}$]/100 Sequences")
ftext(272, 741, ylab, rotation=90, ha="center", va="center", fontsize=11.5, fontweight="bold")
ftext(710, 1482, "Distance to TSS (nt), Minimum:   -1000, Maximum: 1000",
      ha="center", va="center", fontsize=12.5, fontweight="bold")

fig.savefig("out.png", dpi=100)
